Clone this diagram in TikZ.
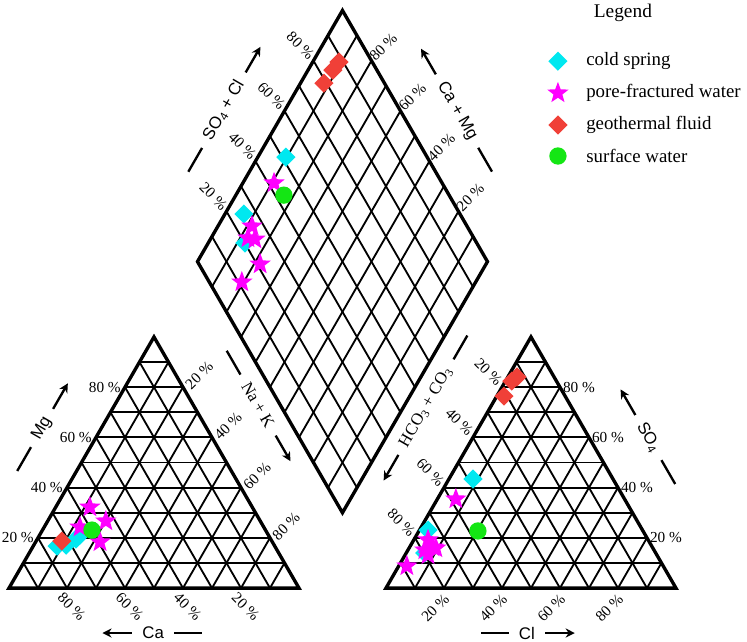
\documentclass[tikz,border=0pt]{standalone}
\usepackage{fontspec}
\setmainfont{Liberation Serif}
\setsansfont{Liberation Sans}
\usetikzlibrary{calc,shapes.geometric,arrows.meta}

\definecolor{coldcol}{RGB}{0,232,240}
\definecolor{porecol}{RGB}{255,0,255}
\definecolor{geocol}{RGB}{240,64,56}
\definecolor{surfcol}{RGB}{20,230,20}

\tikzset{
  border/.style={line width=3.3pt},
  grid/.style={line width=1.8pt},
  pct/.style={font=\fontsize{15}{18}\selectfont, inner sep=0pt},
  axisname/.style={font=\sffamily\fontsize{16.5}{19}\selectfont, inner sep=0pt},
  axisserif/.style={font=\rmfamily\fontsize{16.5}{19}\selectfont, inner sep=0pt},
  axisline/.style={line width=2.3pt},
  axisarrow/.style={line width=2.3pt, -{Stealth[length=9pt,width=9pt]}},
  coldspring/.style={diamond, fill=coldcol, inner sep=0pt, minimum size=19pt},
  porewater/.style={star, star points=5, star point ratio=2.4, fill=porecol, inner sep=0pt, minimum size=22pt},
  geofluid/.style={diamond, fill=geocol, inner sep=0pt, minimum size=19pt},
  surfwater/.style={circle, fill=surfcol, inner sep=0pt, minimum size=17pt},
  legendtext/.style={font=\fontsize{18.5}{22}\selectfont, anchor=west, inner sep=0pt}
}

\begin{document}
\begin{tikzpicture}
	\useasboundingbox (-0.31,-1.83) rectangle (25.45,20.28);
	% corners
	\coordinate (cA) at (0,0);
	\coordinate (cB) at (10,0);
	\coordinate (cC) at (5,8.660);
	\coordinate (aA) at (13,0);
	\coordinate (aB) at (23,0);
	\coordinate (aC) at (18,8.660);
	\coordinate (dB) at (11.5,2.598);
	\coordinate (dL) at (6.5,11.258);
	\coordinate (dT) at (11.5,19.919);
	\coordinate (dR) at (16.5,11.258);
	% grids
	\foreach \k in {1,...,9} {
		\draw[grid] ($(cA)!\k/10!(cC)$) -- ($(cB)!\k/10!(cC)$);
		\draw[grid] ($(cA)!\k/10!(cB)$) -- ($(cA)!\k/10!(cC)$);
		\draw[grid] ($(cA)!\k/10!(cB)$) -- ($(cC)!\k/10!(cB)$);
		\draw[grid] ($(aA)!\k/10!(aC)$) -- ($(aB)!\k/10!(aC)$);
		\draw[grid] ($(aA)!\k/10!(aB)$) -- ($(aA)!\k/10!(aC)$);
		\draw[grid] ($(aA)!\k/10!(aB)$) -- ($(aC)!\k/10!(aB)$);
		\draw[grid] ($(dB)!\k/10!(dL)$) -- ($(dR)!\k/10!(dT)$);
		\draw[grid] ($(dB)!\k/10!(dR)$) -- ($(dL)!\k/10!(dT)$);
	}
	\draw[border] (cA) -- (cB) -- (cC) -- cycle;
	\draw[border] (aA) -- (aB) -- (aC) -- cycle;
	\draw[border] (dB) -- (dR) -- (dT) -- (dL) -- cycle;
	% percent labels
	\foreach \k in {2,4,6,8} {
		\pgfmathtruncatemacro\p{10*\k}
		\pgfmathtruncatemacro\q{100-10*\k}
		\node[pct, anchor=east] (mgp\k) at ($(cA)!\k/10!(cC)+(-0.14,0)$) {\p\ \%};
		\node[pct, rotate=45] (nkp\k) at ($(cB)!\k/10!(cC)+(0.56,0.4)$) {\q\ \%};
		\node[pct, rotate=-45] (cap\k) at ($(cA)!\k/10!(cB)+(0.16,-0.64)$) {\q\ \%};
		\node[pct, rotate=-45] (hcp\k) at ($(aA)!\k/10!(aC)+(-0.47,0.53)$) {\q\ \%};
		\node[pct, anchor=west] (sop\k) at ($(aB)!\k/10!(aC)+(0.1,0)$) {\p\ \%};
		\node[pct, rotate=45] (clp\k) at ($(aA)!\k/10!(aB)+(-0.3,-0.68)$) {\p\ \%};
		\node[pct, rotate=-45] (scp\k) at ($(dL)!\k/10!(dT)+(-0.45,0.52)$) {\p\ \%};
		\node[pct, rotate=45] (cmp\k) at ($(dR)!\k/10!(dT)+(0.41,0.48)$) {\p\ \%};
	}
	% axis names
	\node[axisname, rotate=60] (mg) at (1.14,5.52) {Mg};
	\draw[axisline] ($(mg.west)!-10pt!(mg.east)$) -- ($(mg.west)!-37pt!(mg.east)$);
	\draw[axisarrow] ($(mg.east)!-10pt!(mg.west)$) -- ($(mg.east)!-39pt!(mg.west)$);
	\node[axisname] (ca) at (4.97,-1.55) {Ca};
	\draw[axisarrow] ($(ca.west)!-10pt!(ca.east)$) -- ($(ca.west)!-39pt!(ca.east)$);
	\draw[axisline] ($(ca.east)!-10pt!(ca.west)$) -- ($(ca.east)!-37pt!(ca.west)$);
	\node[axisserif, rotate=-60] (nak) at (8.59,6.31) {Na + K};
	\draw[axisline] ($(nak.west)!-10pt!(nak.east)$) -- ($(nak.west)!-37pt!(nak.east)$);
	\draw[axisarrow] ($(nak.east)!-10pt!(nak.west)$) -- ($(nak.east)!-39pt!(nak.west)$);
	\node[axisname, rotate=-60] (so) at (22.05,5.19) {SO\textsubscript{4}};
	\draw[axisarrow] ($(so.west)!-10pt!(so.east)$) -- ($(so.west)!-39pt!(so.east)$);
	\draw[axisline] ($(so.east)!-10pt!(so.west)$) -- ($(so.east)!-37pt!(so.west)$);
	\node[axisname] (cl) at (17.86,-1.55) {Cl};
	\draw[axisline] ($(cl.west)!-10pt!(cl.east)$) -- ($(cl.west)!-37pt!(cl.east)$);
	\draw[axisarrow] ($(cl.east)!-10pt!(cl.west)$) -- ($(cl.east)!-39pt!(cl.west)$);
	\node[axisserif, rotate=60] (hco) at (14.38,6.24) {HCO\textsubscript{3} + CO\textsubscript{3}};
	\draw[axisarrow] ($(hco.west)!-10pt!(hco.east)$) -- ($(hco.west)!-39pt!(hco.east)$);
	\draw[axisline] ($(hco.east)!-10pt!(hco.west)$) -- ($(hco.east)!-37pt!(hco.west)$);
	\node[axisname, rotate=60] (socl) at (7.41,16.48) {SO\textsubscript{4} + Cl};
	\draw[axisline] ($(socl.west)!-10pt!(socl.east)$) -- ($(socl.west)!-37pt!(socl.east)$);
	\draw[axisarrow] ($(socl.east)!-10pt!(socl.west)$) -- ($(socl.east)!-39pt!(socl.west)$);
	\node[axisname, rotate=-60] (camg) at (15.45,16.45) {Ca + Mg};
	\draw[axisarrow] ($(camg.west)!-10pt!(camg.east)$) -- ($(camg.west)!-39pt!(camg.east)$);
	\draw[axisline] ($(camg.east)!-10pt!(camg.west)$) -- ($(camg.east)!-37pt!(camg.west)$);
	% samples
	\foreach \pos [count=\i] in {(1.66,1.45),(1.97,1.48),(2.31,1.69),(2.45,1.83),
		(16.0,3.76),(14.45,2.0),(14.34,1.21),(9.55,14.86),(8.10,12.90),(8.14,11.90)}
		\node[coldspring] (cs\i) at \pos {};
	\foreach \pos [count=\i] in {(2.79,2.79),(3.34,2.31),(2.45,2.10),(3.14,1.59),
		(15.41,3.07),(14.45,1.66),(14.62,1.41),(14.34,1.31),(14.45,1.14),(14.72,1.38),(13.72,0.76),
		(9.14,13.97),(8.38,12.48),(8.48,12.03),(8.24,12.07),(8.66,11.17),(8.03,10.55)}
		\node[porewater] (pw\i) at \pos {};
	\foreach \pos [count=\i] in {(1.82,1.62),(17.52,7.28),(17.34,7.14),(17.07,6.62),
		(11.38,18.14),(11.17,17.86),(10.86,17.41)}
		\node[geofluid] (gf\i) at \pos {};
	\foreach \pos [count=\i] in {(2.86,2.0),(16.17,1.97),(9.48,13.55)}
		\node[surfwater] (sw\i) at \pos {};
	% legend
	\node[font=\fontsize{19}{22}\selectfont, inner sep=0pt] (legtitle) at (21.17,19.85) {Legend};
	\node[coldspring] (legcs) at (18.93,18.17) {};
	\node[legendtext] (legcstext) at (19.9,18.17) {cold spring};
	\node[porewater] (legpw) at (18.93,17.07) {};
	\node[legendtext] (legpwtext) at (19.9,17.07) {pore-fractured water};
	\node[geofluid] (leggf) at (18.93,15.97) {};
	\node[legendtext] (leggftext) at (19.9,15.97) {geothermal fluid};
	\node[surfwater] (legsw) at (18.93,14.90) {};
	\node[legendtext] (legswtext) at (19.9,14.90) {surface water};
\end{tikzpicture}
\end{document}
